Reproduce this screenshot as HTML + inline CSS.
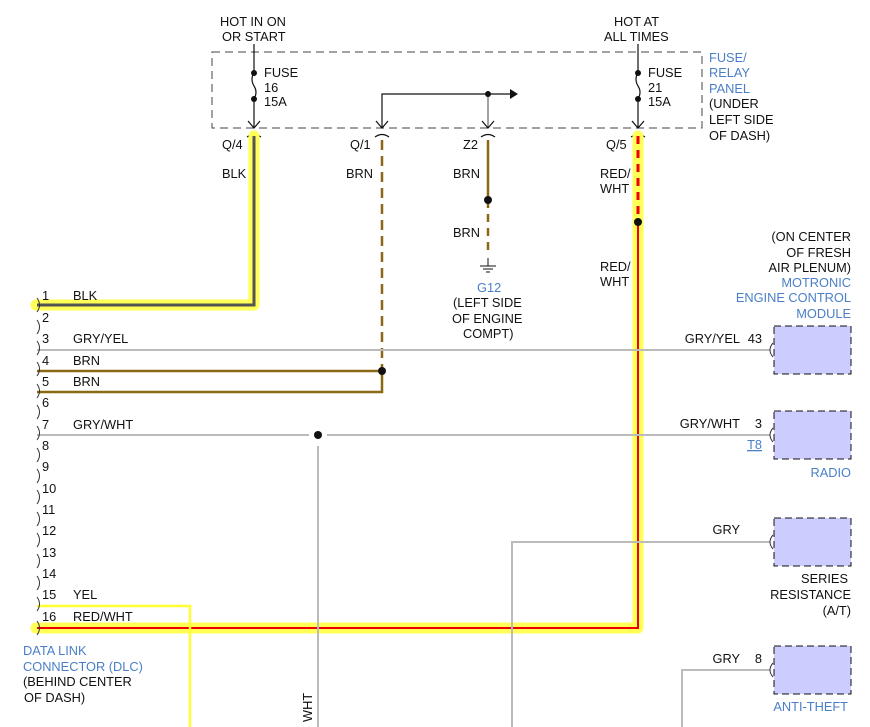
<!DOCTYPE html>
<html><head><style>body{margin:0;background:#fff}svg{display:block}text{font-family:"Liberation Sans",sans-serif;font-size:12.8px;fill:#111}.b{fill:#4a7fc8}</style></head><body>
<svg width="870" height="727" viewBox="0 0 870 727">
<rect x="212" y="52" width="490" height="76" fill="none" stroke="#444" stroke-dasharray="8,5"/>
<text x="220" y="26">HOT IN ON</text><text x="222" y="41">OR START</text>
<text x="614" y="26">HOT AT</text><text x="604" y="41">ALL TIMES</text>
<text x="709" y="62" class="b">FUSE/</text><text x="709" y="77" class="b">RELAY</text><text x="709" y="93" class="b">PANEL</text>
<text x="709" y="108">(UNDER</text><text x="709" y="124">LEFT SIDE</text><text x="709" y="140">OF DASH)</text>
<g stroke="#111" fill="none" stroke-width="1.2">
<path d="M254 44V73 M254 99V128 M254 73q-4 6 0 13q4 6 0 13"/>
<path d="M638 44V73 M638 99V128 M638 73q-4 6 0 13q4 6 0 13"/>
<path d="M382 128V94H510"/><path d="M488 94V128" stroke="#666"/>
<path d="M248 121l6 7 6-7M376 121l6 7 6-7M482 121l6 7 6-7M632 121l6 7 6-7"/>
<path d="M247 137q7-5 14 0M375 137q7-5 14 0M481 137q7-5 14 0M631 137q7-5 14 0"/>
</g>
<path d="M510 89l8 5-8 5z" fill="#111"/>
<g fill="#111"><circle cx="254" cy="73" r="3"/><circle cx="254" cy="99" r="3"/><circle cx="638" cy="73" r="3"/><circle cx="638" cy="99" r="3"/><circle cx="488" cy="94" r="3"/></g>
<text x="264" y="77">FUSE</text><text x="264" y="92">16</text><text x="264" y="106">15A</text>
<text x="648" y="77">FUSE</text><text x="648" y="92">21</text><text x="648" y="106">15A</text>
<text x="222" y="149">Q/4</text><text x="350" y="149">Q/1</text><text x="463" y="149">Z2</text><text x="606" y="149">Q/5</text>
<text x="222" y="178">BLK</text><text x="346" y="178">BRN</text><text x="453" y="178">BRN</text><text x="600" y="178">RED/</text><text x="600" y="193">WHT</text>
<text x="453" y="237">BRN</text><text x="600" y="271">RED/</text><text x="600" y="286">WHT</text>
<text x="477" y="292" class="b">G12</text><text x="453" y="307">(LEFT SIDE</text><text x="452" y="323">OF ENGINE</text><text x="463" y="338">COMPT)</text>
<g fill="none" stroke="#ffff55" stroke-linejoin="round" stroke-linecap="round" stroke-width="11">
<path d="M254 136V305H36"/><path d="M638 136V628H36"/></g>
<path d="M254 136V305H37" fill="none" stroke="#555" stroke-width="3"/>
<path d="M638 136V222" stroke="#e00" stroke-width="3" stroke-dasharray="8,6"/>
<path d="M638 222V628H37" fill="none" stroke="#e00" stroke-width="2"/>
<circle cx="638" cy="222" r="4" fill="#111"/>
<path d="M382 140V371" fill="none" stroke="#8b6914" stroke-width="2.5" stroke-dasharray="10,6"/>
<path d="M382 371V392H37" fill="none" stroke="#8b6914" stroke-width="2.5"/>
<path d="M37 371H378" stroke="#8b6914" stroke-width="2.5"/>
<circle cx="382" cy="371" r="4" fill="#111"/>
<path d="M488 140V200" stroke="#8b6914" stroke-width="2.5"/>
<path d="M488 200V256" stroke="#8b6914" stroke-width="2.5" stroke-dasharray="8,6"/>
<circle cx="488" cy="200" r="4" fill="#111"/>
<path d="M488 258V266M480 266H496M483 269H493M486 272H490" stroke="#111"/>
<g stroke="#bbb" stroke-width="2" fill="none">
<path d="M37 350H770"/><path d="M37 435H309M327 435H770"/><path d="M318 446V727"/>
<path d="M770 542H512V727"/><path d="M770 670H682V727"/></g>
<circle cx="318" cy="435" r="4" fill="#111"/>
<path d="M37 606H190V727" fill="none" stroke="#ffff33" stroke-width="2.5"/>
<text transform="translate(312,722) rotate(-90)">WHT</text>
<g fill="none" stroke="#333">
<path d="M37 298q5 7 0 14M37 320q5 7 0 14M37 341q5 7 0 14M37 362q5 7 0 14M37 384q5 7 0 14M37 405q5 7 0 14M37 426q5 7 0 14M37 448q5 7 0 14M37 469q5 7 0 14M37 490q5 7 0 14M37 512q5 7 0 14M37 533q5 7 0 14M37 554q5 7 0 14M37 576q5 7 0 14M37 597q5 7 0 14M37 621q5 7 0 14"/>
<path d="M773 343q-6 7 0 14M773 428q-6 7 0 14M773 535q-6 7 0 14M773 663q-6 7 0 14"/></g>
<g font-size="12"><text x="42" y="300">1</text><text x="42" y="322">2</text><text x="42" y="343">3</text><text x="42" y="365">4</text><text x="42" y="386">5</text><text x="42" y="407">6</text><text x="42" y="429">7</text><text x="42" y="450">8</text><text x="42" y="471">9</text><text x="42" y="493">10</text><text x="42" y="514">11</text><text x="42" y="535">12</text><text x="42" y="557">13</text><text x="42" y="578">14</text><text x="42" y="599">15</text><text x="42" y="621">16</text></g>
<text x="73" y="300">BLK</text><text x="73" y="343">GRY/YEL</text><text x="73" y="365">BRN</text><text x="73" y="386">BRN</text><text x="73" y="429">GRY/WHT</text><text x="73" y="599">YEL</text><text x="73" y="621">RED/WHT</text>
<text x="23" y="655" class="b">DATA LINK</text><text x="23" y="671" class="b">CONNECTOR (DLC)</text><text x="23" y="686">(BEHIND CENTER</text><text x="24" y="702">OF DASH)</text>
<g fill="#ccf" stroke="#111" stroke-dasharray="7,4"><rect x="774" y="326" width="77" height="48"/><rect x="774" y="411" width="77" height="48"/><rect x="774" y="518" width="77" height="48"/><rect x="774" y="646" width="77" height="48"/></g>
<g text-anchor="end"><text x="851" y="241">(ON CENTER</text><text x="851" y="257">OF FRESH</text><text x="851" y="272">AIR PLENUM)</text>
<text x="851" y="287" class="b">MOTRONIC</text><text x="851" y="302" class="b">ENGINE CONTROL</text><text x="851" y="318" class="b">MODULE</text>
<text x="740" y="343">GRY/YEL</text><text x="762" y="343">43</text>
<text x="740" y="428">GRY/WHT</text><text x="762" y="428">3</text><text x="762" y="449" class="b" text-decoration="underline">T8</text>
<text x="851" y="477" class="b">RADIO</text>
<text x="740" y="534">GRY</text>
<text x="848" y="583">SERIES</text><text x="851" y="599">RESISTANCE</text><text x="851" y="615">(A/T)</text>
<text x="740" y="663">GRY</text><text x="762" y="663">8</text>
<text x="848" y="711" class="b">ANTI-THEFT</text></g>
</svg></body></html>
